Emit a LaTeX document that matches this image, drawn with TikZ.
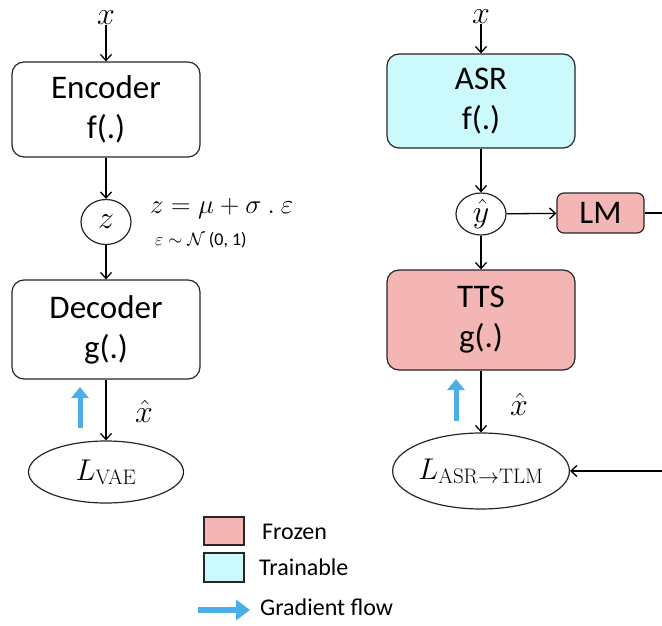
\documentclass[tikz,border=0pt]{standalone}
\usepackage{fix-cm}
\usepackage[no-math]{fontspec}
\setmainfont{Carlito}
\usetikzlibrary{arrows.meta,shapes.geometric}
\definecolor{frozen}{HTML}{F4B6B4}
\definecolor{trainable}{HTML}{CCF9FC}
\definecolor{gradblue}{HTML}{4BAEE8}
\begin{document}
\begin{tikzpicture}[x=1pt,y=-1pt,
  box/.style={draw=black!85,line width=1.2pt,rounded corners=12pt,minimum width=188pt,align=center,font=\fontsize{33}{40}\selectfont,inner sep=0pt},
  circ/.style={draw=black!85,line width=1.2pt,ellipse,inner sep=0pt,font=\fontsize{32}{34}\selectfont},
  loss/.style={draw=black!85,line width=1.2pt,ellipse,inner sep=0pt,font=\fontsize{30}{34}\selectfont},
  lab/.style={inner sep=0pt,font=\fontsize{32}{34}\selectfont},
  conn/.style={line width=1.3pt,-{Straight Barb[length=6pt,width=11pt,line width=1.3pt]}},
  grad/.style={gradblue,line width=5pt,-{Triangle[length=11pt,width=17pt]}},
  legtxt/.style={anchor=west,inner sep=0pt,font=\fontsize{24}{28}\selectfont}
]
\useasboundingbox (0,0) rectangle (662,626);
% left
\node[lab] (x1) at (106,18) {$x$};
\node[box,minimum height=95pt] (enc) at (106,109.5) {Encoder\\f(.)};
\node[circ,minimum width=50pt,minimum height=45pt] (z) at (106,222) {$z$};
\node[box,minimum height=99pt] (dec) at (106,329.5) {Decoder\\g(.)};
\node[loss,minimum width=155pt,minimum height=62pt] (lvae) at (106,472) {$L_{\mathrm{VAE}}$};
\node[lab] (xh1) at (144,411) {$\hat{x}$};
\node[anchor=west,inner sep=0pt,font=\fontsize{27}{30}\selectfont] (eq) at (150,209) {$z = \mu + \sigma\ .\ \varepsilon$};
\node[anchor=west,inner sep=0pt,font=\fontsize{18}{20}\selectfont] (eps) at (155,240) {$\varepsilon\sim\mathcal{N}$ (0, 1)};
\draw[conn] (x1) -- (enc);
\draw[conn] (enc) -- (z);
\draw[conn] (z) -- (dec);
\draw[conn] (dec) -- (lvae);
\coordinate (g1s) at (80,428);
\coordinate (g1e) at (80,387);
\draw[grad] (g1s) -- (g1e);
% right
\node[lab] (x2) at (481,17) {$x$};
\node[box,fill=trainable,minimum height=94pt] (asr) at (481,101) {ASR\\f(.)};
\node[circ,minimum width=50pt,minimum height=42pt] (yh) at (481,214) {$\hat{y}$};
\node[box,fill=frozen,minimum width=87pt,minimum height=40pt,rounded corners=7pt] (lm) at (600.5,213) {LM};
\coordinate (lmout) at (662,213);
\node[box,fill=frozen,minimum height=100pt] (tts) at (481,320) {TTS\\g(.)};
\node[loss,minimum width=154pt,minimum height=76pt] (lasr) at (481,471) {$L_{\mathrm{ASR\rightarrow TLM}}$};
\coordinate (lin) at (662,471);
\node[lab] (xh2) at (519,404) {$\hat{x}$};
\draw[conn] (x2) -- (asr);
\draw[conn] (asr) -- (yh);
\draw[conn] (yh) -- (lm);
\draw[line width=1.3pt] (lm) -- (lmout);
\draw[conn] (yh) -- (tts);
\draw[conn] (tts) -- (lasr);
\draw[conn] (lin) -- (lasr);
\coordinate (g2s) at (456,421);
\coordinate (g2e) at (456,379);
\draw[grad] (g2s) -- (g2e);
% legend
\node[draw=black!85,line width=1.2pt,fill=frozen,minimum width=40pt,minimum height=28pt,inner sep=0pt] (kf) at (224,531) {};
\node[draw=black!85,line width=1.2pt,fill=trainable,minimum width=40pt,minimum height=29pt,inner sep=0pt] (kt) at (224,567.5) {};
\node[legtxt] (tf) at (262,532) {Frozen};
\node[legtxt] (tt) at (259,567) {Trainable};
\coordinate (gls) at (198,610);
\coordinate (gle) at (250,610);
\draw[gradblue,line width=5.5pt,-{Triangle[length=14pt,width=20pt]}] (gls) -- (gle);
\node[legtxt] (tg) at (260,607) {Gradient flow};
\end{tikzpicture}
\end{document}
